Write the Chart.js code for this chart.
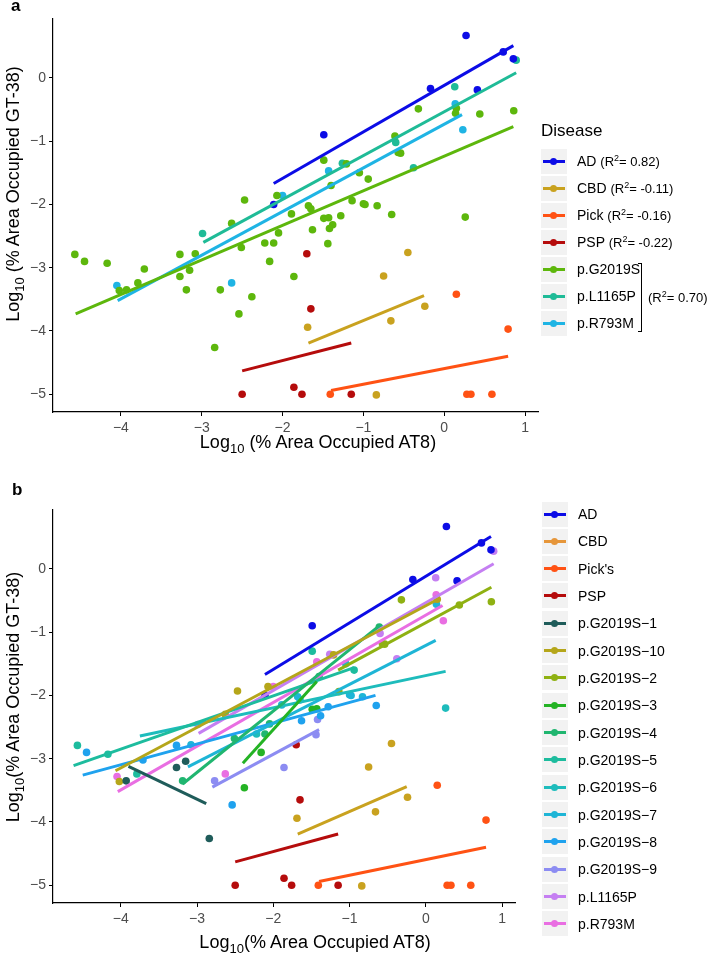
<!DOCTYPE html>
<html>
<head>
<meta charset="utf-8">
<script src="https://cdn.jsdelivr.net/npm/chart.js@4.4.0/dist/chart.umd.min.js"></script>
<style>
  body { margin: 0; background: #fff; font-family: "Liberation Sans", Arial, sans-serif; }
  #wrap { position: relative; width: 709px; height: 960px; overflow: hidden; }
  canvas { position: absolute; left: 0; }
  .txt { position: absolute; white-space: nowrap; color: #000; }
  .panel { font-weight: bold; font-size: 17px; }
  .axt { font-size: 18px; transform: translate(-50%, -50%); }
  .axt.rot { transform: translate(-50%, -50%) rotate(-90deg); }
  .axt sub { font-size: 13px; vertical-align: -5px; }
  .key { position: absolute; width: 26px; height: 25px; background: #f2f2f2; }
  .key .ln { position: absolute; left: 2px; top: 11px; width: 22px; height: 3px; }
  .key .pt { position: absolute; left: 9px; top: 9px; width: 7px; height: 7px; border-radius: 50%; }
  .lab { position: absolute; font-size: 14px; transform: translateY(-50%); white-space: nowrap; }
  .r2 { font-size: 13px; }
  .r2 sup { font-size: 9px; vertical-align: 5px; }
</style>
</head>
<body>
<div id="wrap">
  <canvas id="ca" width="709" height="470" style="top:0"></canvas>
  <canvas id="cb" width="709" height="490" style="top:470px"></canvas>
</div>
<script>
// ---- ticks ----
const xTicks = [-4, -3, -2, -1, 0, 1];
const yTicks = [-5, -4, -3, -2, -1, 0];

// ---- AD / CBD / Pick / PSP (same in both panels) ----
const adX = [0.27, 0.73, 0.855, -0.17, 0.41, -1.49, -2.11];
const adY = [0.67, 0.41, 0.30, -0.17, -0.19, -0.90, -2.0];
const adFitX = [-2.11, 0.855], adFitY = [-1.67, 0.51];

const cbdX = [-0.45, -0.75, -0.24, -0.66, -1.69, -0.84];
const cbdY = [-2.76, -3.13, -3.61, -3.84, -3.94, -5.01];
const cbdFitX = [-1.68, -0.25], cbdFitY = [-4.19, -3.44];

const pickX = [0.15, 0.79, -1.41, 0.28, 0.33, 0.59];
const pickY = [-3.42, -3.97, -5.0, -5.0, -5.0, -5.0];
const pickFitX = [-1.40, 0.79], pickFitY = [-4.94, -4.40];

const pspX = [-1.70, -1.65, -1.86, -1.76, -1.15, -2.50];
const pspY = [-2.78, -3.65, -4.89, -5.0, -5.0, -5.0];
const pspFitX = [-2.50, -1.15], pspFitY = [-4.63, -4.19];

// ---- LRRK2 variants ----
const l1165X = [0.13, 0.89, -0.38, -2.99, -1.26, -0.60];
const l1165Y = [-0.14, 0.28, -1.42, -2.46, -1.35, -1.02];
const l1165FitX = [-2.98, 0.89], l1165FitY = [-2.60, 0.08];

const r793X = [0.136, 0.23, -1.43, -2.0, -4.05, -2.63];
const r793Y = [-0.41, -0.82, -1.47, -1.86, -3.28, -3.24];
const r793FitX = [-4.04, 0.22], r793FitY = [-3.52, -0.58];

// p.G2019S individual cases (panel b)
const g1X = [-3.93, -3.27, -3.15, -2.84];
const g1Y = [-3.35, -3.14, -3.04, -4.26];
const g1FitX = [-3.90, -2.88], g1FitY = [-3.12, -3.71];

const g10X = [-4.02, -2.63, -2.47, -2.07, -1.21, 0.15];
const g10Y = [-3.36, -2.30, -1.93, -1.86, -1.36, -0.48];
const g10FitX = [-4.07, 0.19], g10FitY = [-3.19, -0.46];

const g2X = [-1.14, -0.57, -0.54, -0.32, 0.44, 0.86];
const g2Y = [-1.94, -1.18, -1.19, -0.49, -0.57, -0.52];
const g2FitX = [-1.15, 0.86], g2FitY = [-1.60, -0.29];

const g3X = [-2.38, -2.16, -1.43, -1.49];
const g3Y = [-3.46, -2.90, -2.21, -2.22];
const g3FitX = [-2.40, -1.43], g3FitY = [-3.07, -1.78];

const g4X = [-3.19, -2.51, -2.11, -2.05, -1.40, -0.61];
const g4Y = [-3.35, -2.68, -2.61, -2.45, -1.70, -0.92];
const g4FitX = [-3.19, -0.62], g4FitY = [-3.40, -0.91];

const g5X = [-4.57, -4.17, -3.79, -1.49, -0.94];
const g5Y = [-2.79, -2.93, -3.24, -1.30, -1.60];
const g5FitX = [-4.62, -0.94], g5FitY = [-3.11, -1.56];

const g6X = [-2.22, -1.05, 0.26];
const g6Y = [-2.61, -1.50, -2.20];
const g6FitX = [-3.75, 0.26], g6FitY = [-2.64, -1.62];

const g7X = [-3.08, -1.89, -1.68, -1.65, -1.00, -0.98, -0.83, 0.14];
const g7Y = [-2.78, -2.15, -2.02, -2.07, -1.99, -2.00, -2.02, -0.56];
const g7FitX = [-3.12, 0.13], g7FitY = [-3.13, -1.13];

const g8X = [-4.45, -3.71, -3.27, -2.54, -1.63, -1.38, -1.28, -0.65];
const g8Y = [-2.90, -3.02, -2.79, -3.73, -2.40, -2.32, -2.18, -2.16];
const g8FitX = [-4.50, -0.66], g8FitY = [-3.26, -2.00];

const g9X = [-2.77, -1.86, -1.44, -1.42];
const g9Y = [-3.35, -3.14, -2.62, -2.38];
const g9FitX = [-2.80, -1.40], g9FitY = [-3.45, -2.54];

// pooled p.G2019S (panel a)
const gAllX = [].concat(g1X, g10X, g2X, g3X, g4X, g5X, g6X, g7X, g8X, g9X);
const gAllY = [].concat(g1Y, g10Y, g2Y, g3Y, g4Y, g5Y, g6Y, g7Y, g8Y, g9Y);
const gAllFitX = [-4.56, 0.855], gAllFitY = [-3.73, -0.77];

// ---- legend text ----
const labelsA = ['AD', 'CBD', 'Pick', 'PSP', 'p.G2019S', 'p.L1165P', 'p.R793M'];
const r2A = ['0.82', '-0.11', '-0.16', '-0.22'];
const r2Pooled = '0.70';
const labelsB = ['AD', 'CBD', "Pick's", 'PSP', 'p.G2019S\u22121', 'p.G2019S\u221210', 'p.G2019S\u22122',
  'p.G2019S\u22123', 'p.G2019S\u22124', 'p.G2019S\u22125', 'p.G2019S\u22126', 'p.G2019S\u22127',
  'p.G2019S\u22128', 'p.G2019S\u22129', 'p.L1165P', 'p.R793M'];

// ---- colours ----
const colorsA = ['#0c0ce6', '#c9a21f', '#ff5214', '#b50c0c', '#5db70c', '#1fbb97', '#1fb4e4'];
const legendColorsB = ['#0c0ce6', '#e6963a', '#ff5214', '#b50c0c', '#1f5c5a', '#b5a61a', '#8fb112',
  '#24b324', '#20b670', '#1dbc9e', '#1ebcbc', '#1eb5d6', '#1fa2ee', '#8c8cf2', '#c57ff2', '#e96ee2'];
const colorsB = legendColorsB.slice();
colorsB[1] = '#c9a21f';

const groupsA = [
  [adX, adY, adFitX, adFitY], [cbdX, cbdY, cbdFitX, cbdFitY], [pickX, pickY, pickFitX, pickFitY],
  [pspX, pspY, pspFitX, pspFitY], [gAllX, gAllY, gAllFitX, gAllFitY],
  [l1165X, l1165Y, l1165FitX, l1165FitY], [r793X, r793Y, r793FitX, r793FitY]
];
const groupsB = [
  [adX, adY, adFitX, adFitY], [cbdX, cbdY, cbdFitX, cbdFitY], [pickX, pickY, pickFitX, pickFitY],
  [pspX, pspY, pspFitX, pspFitY],
  [g1X, g1Y, g1FitX, g1FitY], [g10X, g10Y, g10FitX, g10FitY], [g2X, g2Y, g2FitX, g2FitY],
  [g3X, g3Y, g3FitX, g3FitY], [g4X, g4Y, g4FitX, g4FitY], [g5X, g5Y, g5FitX, g5FitY],
  [g6X, g6Y, g6FitX, g6FitY], [g7X, g7Y, g7FitX, g7FitY], [g8X, g8Y, g8FitX, g8FitY],
  [g9X, g9Y, g9FitX, g9FitY],
  [l1165X, l1165Y, l1165FitX, l1165FitY], [r793X, r793Y, r793FitX, r793FitY]
];

const pairs = (xs, ys) => xs.map((x, i) => ({ x: x, y: ys[i] }));
const fmt = v => (v < 0 ? '\u2212' + Math.abs(v) : String(v));

function buildDatasets(groups, cols) {
  const ds = [];
  groups.forEach((g, i) => {
    ds.push({
      data: pairs(g[0], g[1]), showLine: false, order: 1,
      pointRadius: 3.8, pointBackgroundColor: cols[i], pointBorderWidth: 0
    });
  });
  groups.forEach((g, i) => {
    ds.push({
      data: pairs(g[2], g[3]), showLine: true, order: 0,
      borderColor: cols[i], borderWidth: 3, pointRadius: 0, borderCapStyle: 'butt'
    });
  });
  return ds;
}

function axis(min, max, ticks, isX) {
  return {
    type: 'linear', min: min, max: max,
    afterBuildTicks: s => { s.ticks = ticks.map(v => ({ value: v })); },
    afterFit: s => { if (isX) s.height = 40; else s.width = 53; },
    ticks: {
      callback: fmt, color: '#4d4d4d', padding: isX ? 4 : 3,
      font: { family: '"Liberation Sans", Arial, sans-serif', size: 14 },
      maxRotation: 0, autoSkip: false
    },
    grid: { display: true, drawOnChartArea: false, drawTicks: true, tickLength: 4, color: '#000', lineWidth: 1 },
    border: { display: true, color: '#000', width: 1.2 }
  };
}

function makeChart(id, groups, cols, pad, xMin, xMax) {
  new Chart(document.getElementById(id), {
    type: 'scatter',
    data: { datasets: buildDatasets(groups, cols) },
    options: {
      responsive: false, animation: false, devicePixelRatio: 1,
      layout: { padding: pad },
      plugins: { legend: { display: false }, tooltip: { enabled: false } },
      scales: { x: axis(xMin, xMax, xTicks, true), y: axis(-5.28, 0.93, yTicks, false) }
    }
  });
}

makeChart('ca', groupsA, colorsA, { top: 19, right: 171, bottom: 18, left: 0 }, -4.84, 1.16);
makeChart('cb', groupsB, colorsB, { top: 40, right: 194, bottom: 17, left: 0 }, -4.89, 1.17);

// ---- text and legends ----
const wrap = document.getElementById('wrap');
function addText(html, cls, left, top) {
  const d = document.createElement('div');
  d.className = 'txt ' + cls;
  d.innerHTML = html;
  d.style.left = left + 'px';
  d.style.top = top + 'px';
  wrap.appendChild(d);
  return d;
}
addText('a', 'panel', 11, -4);
addText('b', 'panel', 12, 480);
addText('Log<sub>10</sub> (% Area Occupied AT8)', 'axt', 318, 444);
addText('Log<sub>10</sub> (% Area Occupied GT-38)', 'axt rot', 15, 194);
addText('Log<sub>10</sub>(% Area Occupied AT8)', 'axt', 315, 944);
addText('Log<sub>10</sub>(% Area Occupied GT-38)', 'axt rot', 15, 697);

function legend(labels, colors, x0, y0, step, r2) {
  labels.forEach((lab, i) => {
    const cy = y0 + i * step;
    const k = document.createElement('div');
    k.className = 'key';
    k.style.left = x0 + 'px';
    k.style.top = (cy - 12.5) + 'px';
    k.innerHTML = '<div class="ln" style="background:' + colors[i] + '"></div>' +
      '<div class="pt" style="background:' + colors[i] + '"></div>';
    wrap.appendChild(k);
    const t = document.createElement('div');
    t.className = 'lab';
    t.style.left = (x0 + 36) + 'px';
    t.style.top = cy + 'px';
    let html = lab;
    if (r2 && r2[i] !== undefined) html += ' <span class="r2">(R<sup>2</sup>= ' + r2[i] + ')</span>';
    t.innerHTML = html;
    wrap.appendChild(t);
  });
}
addText('Disease', '', 541, 121).style.fontSize = '17px';
legend(labelsA, colorsA, 541, 161, 27, r2A);
legend(labelsB, legendColorsB, 542, 514, 27.33, null);

// bracket for the pooled LRRK2 R2
const br = document.createElement('div');
br.style.cssText = 'position:absolute;left:638px;top:263px;width:3px;height:67px;border:1.5px solid #000;border-left:none;';
wrap.appendChild(br);
const r2t = document.createElement('div');
r2t.className = 'lab r2';
r2t.style.left = '648px';
r2t.style.top = '297px';
r2t.innerHTML = '(R<sup>2</sup>= ' + r2Pooled + ')';
wrap.appendChild(r2t);
</script>
</body>
</html>
